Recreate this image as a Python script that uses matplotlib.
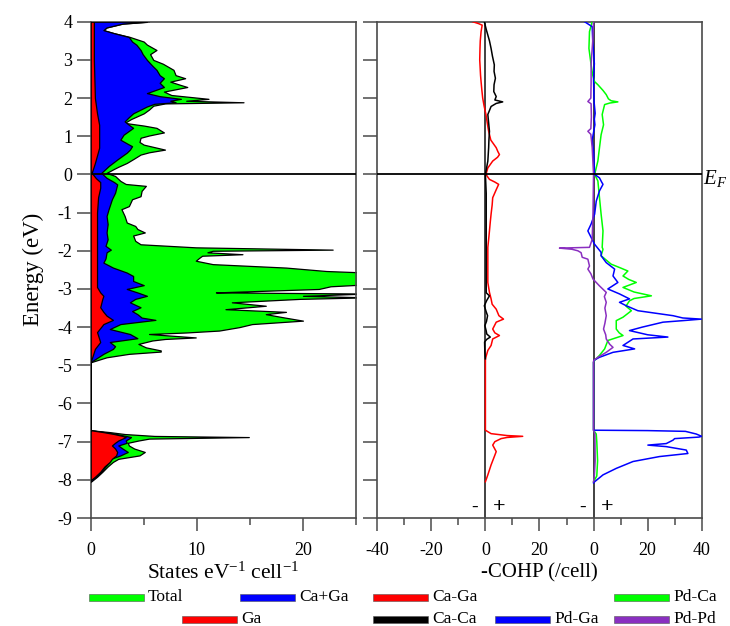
import numpy as np
import matplotlib
matplotlib.use("Agg")
import matplotlib.pyplot as plt
from matplotlib.patches import Rectangle
from matplotlib.ticker import MultipleLocator

plt.rcParams['font.family'] = ['Liberation Serif', 'DejaVu Serif']
plt.rcParams['mathtext.fontset'] = 'custom'
plt.rcParams['mathtext.rm'] = 'Liberation Serif'
plt.rcParams['mathtext.it'] = 'Liberation Serif:italic'
plt.rcParams['axes.unicode_minus'] = False

GREEN = '#00ff00'
BLUE = '#0000ff'
RED = '#ff0000'
BLACK = '#000000'
PURPLE = '#8a2fc0'

# ---------------- density of states (states / eV / cell) ----------------
dos_total_E = [4.00, 3.95, 3.85, 3.78, 3.70, 3.60, 3.48, 3.40, 3.26, 3.15, 3.00, 2.90, 2.74, 2.60,
               2.52, 2.43, 2.35, 2.29, 2.17, 2.08, 1.98, 1.93, 1.89, 1.86, 1.80, 1.70, 1.60, 1.45,
               1.35, 1.28, 1.22, 1.10, 1.02, 0.96, 0.85, 0.78, 0.65, 0.58, 0.52, 0.40, 0.30, 0.20,
               0.13, 0.04, -0.04, -0.17, -0.25, -0.30, -0.43, -0.57, -0.65, -0.83, -0.91, -1.09,
               -1.26, -1.35, -1.43, -1.52, -1.60, -1.74, -1.83, -1.91, -1.97, -2.00, -2.04, -2.09,
               -2.13, -2.17, -2.26, -2.35, -2.44, -2.53, -2.57, -2.62, -2.70, -2.80, -2.88, -2.93,
               -3.00, -3.07, -3.09, -3.12, -3.18, -3.22, -3.26, -3.35, -3.44, -3.53, -3.60, -3.66,
               -3.74, -3.83, -3.92, -4.00, -4.09, -4.14, -4.18, -4.27, -4.31, -4.35, -4.44, -4.53,
               -4.61, -4.64, -4.70, -4.79, -4.92, -6.70, -6.75, -6.80, -6.85, -6.88, -6.92, -6.97,
               -7.03, -7.10, -7.18, -7.27, -7.36, -7.45, -7.53, -7.65, -7.79, -7.92, -8.05]
dos_total = [5.5, 3.0, 1.5, 1.2, 2.2, 3.7, 5.0, 5.3, 6.2, 5.6, 5.9, 6.8, 7.8, 8.0,
             8.9, 7.5, 8.4, 9.1, 6.9, 7.6, 11.1, 9.0, 14.4, 7.0, 5.9, 5.5, 5.0, 3.8,
             3.2, 5.0, 6.2, 6.9, 5.5, 4.7, 4.6, 5.0, 7.0, 5.5, 4.7, 4.0, 3.4, 2.6,
             2.1, 1.5, 2.3, 2.8, 3.3, 5.2, 4.8, 4.7, 3.9, 3.6, 2.9, 3.2,
             3.4, 4.2, 4.4, 5.1, 4.0, 4.2, 4.7, 9.9, 22.8, 11.5, 11.0, 14.3,
             10.5, 10.3, 9.9, 11.5, 18.4, 22.2, 26.0, 27.0, 28.0, 27.0, 26.0, 22.6,
             21.5, 14.0, 11.8, 26.0, 20.0, 26.0, 19.7, 13.3, 16.5, 12.7, 18.4, 16.5,
             18.1, 20.0, 15.2, 14.0, 12.1, 9.0, 5.5, 9.9, 7.0, 5.8, 4.5, 5.2,
             6.6, 6.6, 3.6, 1.5, 0.0, 0.0, 1.8, 3.2, 6.0, 14.9, 5.5, 4.5,
             3.5, 3.6, 4.1, 5.1, 4.6, 2.6, 2.1, 1.6, 1.1, 0.6, 0.0]

dos_caga_E = [4.00, 3.95, 3.85, 3.78, 3.70, 3.60, 3.48, 3.40, 3.26, 3.15, 3.00, 2.85, 2.74, 2.60,
              2.52, 2.40, 2.29, 2.13, 2.05, 1.98, 1.93, 1.89, 1.85, 1.78, 1.60, 1.50, 1.39, 1.30,
              1.22, 1.12, 1.04, 0.91, 0.80, 0.74, 0.65, 0.57, 0.39, 0.22, 0.04, -0.09, -0.20,
              -0.26, -0.48, -0.65, -0.90, -1.09, -1.30, -1.52, -1.70, -1.87, -1.97, -2.04, -2.20,
              -2.31, -2.44, -2.57, -2.66, -2.79, -2.90, -3.00, -3.10, -3.18, -3.26, -3.35, -3.48,
              -3.58, -3.66, -3.75, -3.81, -3.92, -4.05, -4.18, -4.29, -4.39, -4.50, -4.57, -4.70,
              -4.87, -4.92, -6.70, -6.75, -6.80, -6.85, -6.88, -6.92, -6.97, -7.03, -7.10, -7.18,
              -7.27, -7.36, -7.45, -7.53, -7.65, -7.79, -7.92, -8.05]
dos_caga = [5.3, 3.0, 1.5, 1.2, 2.2, 3.6, 3.9, 4.3, 4.7, 4.9, 5.3, 5.8, 6.2, 6.5,
            6.9, 6.5, 6.9, 5.3, 6.5, 8.5, 7.5, 8.0, 6.0, 5.3, 4.0, 3.6, 3.2, 3.6,
            4.0, 3.5, 3.1, 2.8, 3.5, 3.9, 3.7, 3.4, 2.5, 1.7, 1.0, 1.5, 2.2,
            2.5, 2.3, 2.0, 1.7, 1.5, 1.6, 1.5, 1.6, 1.4, 1.9, 1.5, 1.4,
            1.2, 2.1, 3.4, 4.0, 4.0, 5.0, 3.4, 4.5, 5.3, 4.2, 3.7, 4.7,
            3.9, 4.4, 4.8, 6.1, 2.8, 1.8, 3.7, 4.4, 1.8, 2.3, 2.1, 1.2,
            0.25, 0.0, 0.0, 1.3, 2.4, 3.3, 3.8, 3.6, 3.3, 3.4, 2.6, 3.0,
            3.5, 2.8, 1.9, 1.8, 1.4, 1.0, 0.5, 0.0]

dos_ga_E = [4.00, 3.00, 2.50, 2.00, 1.60, 1.30, 1.00, 0.70, 0.50, 0.30, 0.04, -0.10, -0.20,
            -0.35, -0.60, -1.00, -1.50, -2.00, -2.50, -2.95, -3.09, -3.18, -3.26, -3.48, -3.60,
            -3.70, -3.81, -3.92, -4.13, -4.39, -4.57, -4.83, -4.92, -6.70, -6.75, -6.80, -6.85,
            -6.88, -6.92, -6.97, -7.03, -7.10, -7.18, -7.27, -7.36, -7.45, -7.53, -7.65, -7.79,
            -7.92, -8.01]
dos_ga = [0.3, 0.3, 0.35, 0.4, 0.6, 0.8, 0.8, 0.8, 0.6, 0.4, 0.1, 0.5, 0.9,
          0.9, 0.7, 0.6, 0.6, 0.6, 0.6, 0.6, 0.9, 1.2, 1.1, 0.9, 1.2,
          1.5, 2.1, 1.2, 0.6, 0.9, 0.4, 0.1, 0.0, 0.0, 1.2, 2.2, 3.0,
          3.3, 3.0, 2.6, 2.3, 2.0, 2.3, 2.5, 2.4, 2.0, 1.8, 1.3, 0.9,
          0.4, 0.0]

# ---------------- crystal orbital Hamilton populations (-COHP / cell) ----------------
cohp_caga_E = [4.00, 3.95, 3.91, 3.74, 3.50, 3.30, 3.00, 2.87, 2.60, 2.43, 2.20, 2.00, 1.80,
               1.57, 1.30, 1.13, 0.90, 0.80, 0.70, 0.60, 0.52, 0.45, 0.35, 0.17, 0.00, -0.13,
               -0.20, -0.26, -0.40, -0.61, -0.80, -1.04, -1.25, -1.48, -1.70, -1.91, -2.40,
               -2.83, -3.09, -3.26, -3.40, -3.53, -3.70, -3.79, -3.87, -4.05, -4.15, -4.22,
               -4.31, -4.48, -4.61, -4.83, -6.70, -6.79, -6.84, -6.86, -6.89, -6.92, -7.00,
               -7.09, -7.26, -7.39, -7.61, -7.87, -8.05]
cohp_caga = [-4.7, -2.5, -1.2, -1.6, -1.9, -2.0, -2.1, -2.0, -1.8, -1.6, -1.3, -1.0, -0.5,
             0.2, 0.8, 1.2, 2.0, 3.0, 4.0, 4.6, 5.2, 4.5, 2.7, 0.9, 0.2, 1.5,
             3.5, 4.9, 4.0, 2.7, 2.5, 2.1, 1.8, 1.5, 1.2, 0.9, 0.9,
             0.9, 1.5, 2.1, 2.5, 4.0, 5.0, 6.7, 4.0, 2.7, 3.5, 5.2,
             2.7, 2.1, 0.9, 0.0, 0.0, 2.1, 8.0, 13.8, 8.0, 5.8, 3.5,
             2.7, 4.0, 3.3, 2.1, 0.9, 0.0]

cohp_caca_E = [4.00, 3.80, 3.65, 3.50, 3.30, 3.10, 2.87, 2.70, 2.52, 2.35, 2.17, 2.04, 1.95,
               1.90, 1.86, 1.78, 1.57, 1.35, 1.13, 0.90, 0.70, 0.35, 0.00, -0.50, -1.50, -2.50,
               -3.10, -3.18, -3.30, -3.44, -3.60, -3.70, -3.85, -3.96, -4.10, -4.18, -4.26,
               -4.32, -4.39, -4.66, -4.83]
cohp_caca = [-0.4, 0.3, 0.9, 1.5, 2.1, 2.6, 3.3, 3.2, 3.7, 3.2, 3.1, 4.0, 3.5,
             6.4, 4.0, 2.1, 0.9, 1.2, 1.5, 1.3, 1.2, 0.9, 0.0, 0.3, 0.3, 0.3,
             0.3, 1.5, 0.5, -0.4, 0.3, 0.8, 0.4, -0.2, 0.3, 0.5, 1.8,
             0.5, -0.3, -0.2, 0.0]

cohp_pdca_E = [4.00, 3.74, 3.30, 2.87, 2.60, 2.43, 2.35, 2.20, 2.09, 1.98, 1.93, 1.90, 1.87,
               1.83, 1.57, 1.30, 1.04, 0.70, 0.35, 0.00, -0.17, -0.61, -1.04, -1.48, -1.91,
               -1.96, -2.13, -2.35, -2.45, -2.53, -2.66, -2.75, -2.83, -2.96, -3.08, -3.18,
               -3.25, -3.31, -3.45, -3.57, -3.74, -3.83, -4.05, -4.15, -4.22, -4.35, -4.57,
               -4.74, -4.87, -4.92, -6.70, -6.80, -7.00, -7.50, -7.90, -8.05]
cohp_pdca = [-0.5, -1.5, -1.7, -0.9, -0.3, 0.4, 1.6, 3.5, 4.7, 5.5, 6.5, 9.0, 6.0,
             4.1, 3.2, 3.7, 2.8, 2.2, 1.6, 0.4, 1.6, 2.2, 2.8, 3.5, 3.2,
             3.5, 2.8, 6.5, 10.0, 12.7, 10.9, 13.0, 15.8, 10.9, 15.0, 21.4,
             15.0, 13.3, 12.0, 14.0, 10.9, 8.4, 8.4, 9.5, 10.9, 5.3, 4.1,
             2.2, 0.4, 0.0, 0.0, 1.0, 1.2, 1.5, 1.2, 0.0]

cohp_pdga_E = [4.00, 3.87, 3.50, 2.90, 2.50, 1.90, 1.60, 1.45, 1.30, 1.10, 0.90, 0.60, 0.00,
               -0.09, -0.20, -0.26, -0.43, -0.70, -1.04, -1.30, -1.48, -1.65, -1.83, -2.04,
               -2.13, -2.31, -2.48, -2.66, -2.83, -3.00, -3.13, -3.26, -3.35, -3.44, -3.57,
               -3.70, -3.76, -3.79, -3.83, -3.87, -4.00, -4.09, -4.20, -4.26, -4.31, -4.48,
               -4.57, -4.66, -4.79, -4.87, -4.92, -6.70, -6.71, -6.73, -6.80, -6.86, -6.88,
               -6.92, -6.96, -7.05, -7.09, -7.13, -7.22, -7.31, -7.39, -7.52, -7.70, -7.87,
               -8.05, -8.08]
cohp_pdga = [-3.3, -0.5, -0.3, 0.3, 0.0, 0.2, 0.6, 0.3, 0.5, 0.0, -0.5, 0.0, 0.4,
             2.2, 3.0, 3.5, 2.2, 1.0, 0.4, -0.9, -2.1, -0.9, 0.4, 2.8,
             2.8, 4.7, 7.8, 7.2, 9.0, 5.3, 9.6, 13.3, 9.6, 12.1, 16.4,
             29.4, 33.0, 39.9, 33.0, 25.7, 18.0, 13.3, 20.0, 27.5, 14.6, 10.9,
             15.2, 7.2, 2.2, 0.1, 0.0, 0.0, 20.0, 34.0, 38.0, 40.0, 39.0,
             30.0, 29.4, 26.9, 20.1, 26.9, 34.3, 34.9, 24.4, 14.6, 8.4, 3.5,
             0.4, 0.0]

cohp_pdpd_E = [4.00, 3.50, 2.90, 2.40, 2.00, 1.91, 1.85, 1.50, 1.20, 1.13, 1.05, 0.70, 0.00,
               -1.00, -1.70, -1.91, -1.93, -1.96, -2.00, -2.05, -2.17, -2.22, -2.40, -2.48,
               -2.60, -2.74, -2.92, -3.09, -3.20, -3.35, -3.50, -3.70, -3.90, -4.05, -4.20,
               -4.31, -4.45, -4.53, -4.66, -4.79, -4.87, -4.92, -6.70, -6.80, -7.50, -7.90, -8.05]
cohp_pdpd = [0.0, -0.3, -0.9, -0.9, -1.0, -2.1, -0.9, -0.8, -1.0, -2.1, -1.0, -0.5, 0.0,
             -0.2, -0.5, -1.5, -12.6, -8.0, -5.8, -4.6, -4.2, -2.1, -1.5, -2.1,
             -1.0, -0.2, 2.2, 4.7, 4.0, 4.7, 4.2, 4.7, 4.2, 3.7, 4.5,
             4.7, 6.0, 7.2, 4.7, 1.6, 0.1, 0.0, 0.0, 0.5, 0.6, 0.3, 0.0]

# Pd-centred interactions share the right panel, shifted along x
PD_OFFSET = 40
cohp_ticks = [-40, -20, 0, 20, 40, 60, 80]
cohp_ticklabels = ['-40', '-20', '0', '20', '0', '20', '40']

# ---------------- figure ----------------
fig = plt.figure(figsize=(7.3, 6.26), dpi=100)
ax1 = fig.add_axes([0.1242, 0.1725, 0.3635, 0.7928])
ax2 = fig.add_axes([0.5168, 0.1725, 0.4444, 0.7928])

SPINE = '#4a4a4a'
for ax in (ax1, ax2):
    for s in ax.spines.values():
        s.set_color(SPINE)
        s.set_linewidth(1.2)
    ax.set_ylim(-9, 4)
    ax.yaxis.set_major_locator(MultipleLocator(1))
    ax.tick_params(axis='y', which='major', direction='out', length=10, width=1.1,
                   color=SPINE, labelsize=13, pad=3)
    ax.tick_params(axis='x', which='major', direction='out', length=9, width=1.1,
                   color=SPINE, labelsize=13, pad=8)
    ax.tick_params(axis='x', which='minor', direction='out', length=5, width=1.1, color=SPINE)
    ax.tick_params(axis='y', which='minor', left=False)

# DOS panel: stacked filled curves
ax1.fill_betweenx(dos_total_E, 0, dos_total, facecolor=GREEN, edgecolor=BLACK, linewidth=0.9, zorder=2)
ax1.fill_betweenx(dos_caga_E, 0, dos_caga, facecolor=BLUE, edgecolor=BLACK, linewidth=0.9, zorder=3)
ax1.fill_betweenx(dos_ga_E, 0, dos_ga, facecolor=RED, edgecolor=BLACK, linewidth=0.9, zorder=4)
ax1.axhline(0, color=BLACK, linewidth=1.3, zorder=5)
ax1.set_xlim(0, 25)
ax1.xaxis.set_major_locator(MultipleLocator(10))
ax1.xaxis.set_minor_locator(MultipleLocator(5))
ax1.set_xlabel('States eV$^{\\mathregular{-1}}$ cell$^{\\mathregular{-1}}$', fontsize=15.5, labelpad=3)
ax1.set_ylabel('Energy (eV)', fontsize=16.5, labelpad=10)

# COHP panel
ax2.plot(cohp_caga, cohp_caga_E, color=RED, linewidth=1.1, zorder=3)
ax2.plot(cohp_caca, cohp_caca_E, color=BLACK, linewidth=1.1, zorder=3)
ax2.plot(np.array(cohp_pdca) + PD_OFFSET, cohp_pdca_E, color=GREEN, linewidth=1.1, zorder=3)
ax2.plot(np.array(cohp_pdga) + PD_OFFSET, cohp_pdga_E, color=BLUE, linewidth=1.1, zorder=4)
ax2.plot(np.array(cohp_pdpd) + PD_OFFSET, cohp_pdpd_E, color=PURPLE, linewidth=1.1, zorder=4)
ax2.axvline(0, color='#333333', linewidth=1.3, zorder=2)
ax2.axvline(PD_OFFSET, color='#333333', linewidth=1.3, zorder=2)
ax2.axhline(0, color=BLACK, linewidth=1.3, zorder=5)
ax2.set_xlim(-40, 80)
ax2.set_xticks(cohp_ticks)
ax2.set_xticklabels(cohp_ticklabels)
ax2.xaxis.set_minor_locator(MultipleLocator(10))
ax2.tick_params(axis='y', labelleft=False)
ax2.set_xlabel('-COHP (/cell)', fontsize=15, labelpad=3)

for x0 in (0, PD_OFFSET):
    ax2.text(x0 - 4, -8.72, '-', fontsize=14, ha='center', va='center')
    ax2.text(x0 + 5, -8.72, '+', fontsize=16, ha='center', va='center', fontweight='bold')

ax2.text(1.005, -0.1, '$E_F$', transform=ax2.get_yaxis_transform(), fontsize=15,
         ha='left', va='center')

# legend: coloured bars with labels, arranged in two rows
W, H = 730.0, 626.0
legend_items = [('Total', GREEN, 89, 597), ('Ca+Ga', BLUE, 240, 597),
                ('Ca-Ga', RED, 373, 597), ('Pd-Ca', GREEN, 614, 597),
                ('Ga', RED, 182, 619), ('Ca-Ca', BLACK, 373, 619),
                ('Pd-Ga', BLUE, 495, 619), ('Pd-Pd', PURPLE, 614, 619)]
for label, color, px, py in legend_items:
    fig.add_artist(Rectangle((px / W, 1 - (py + 3.5) / H), 55 / W, 7 / H,
                             transform=fig.transFigure, facecolor=color,
                             edgecolor='#555555', linewidth=0.4))
    fig.text((px + 59) / W, 1 - py / H, label, fontsize=12.5, ha='left', va='center')

fig.savefig('out.png', dpi=100)
